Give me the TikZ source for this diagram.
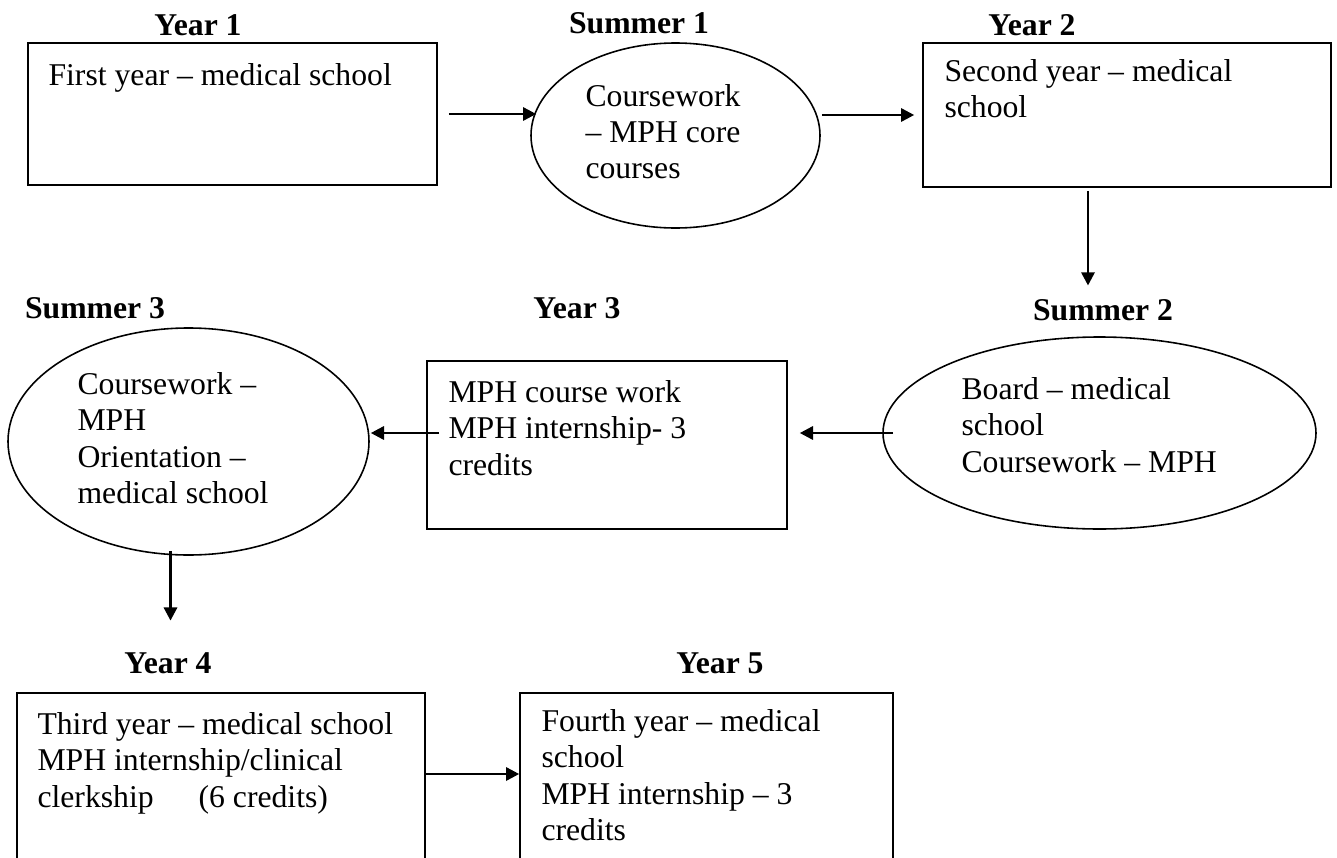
\documentclass[tikz,border=0pt]{standalone}
\usepackage{fontspec}
\setmainfont{Liberation Serif}
\usetikzlibrary{shapes.geometric}
\usetikzlibrary{arrows.meta}

\tikzset{
  boxsize/.style 2 args={minimum width=#1*0.3786pt, minimum height=#2*0.3786pt},
  yearbox/.style={draw, rectangle, line width=0.6pt, inner sep=0pt},
  summerell/.style={draw, ellipse, line width=0.6pt, inner sep=0pt},
  boxtext/.style={anchor=north west, inner sep=0pt, align=left, font=\fontsize{12}{13.8}\selectfont, execute at begin node=\strut},
  periodlbl/.style={anchor=base, inner sep=0pt, font=\fontsize{12}{13.8}\selectfont\bfseries},
  flow/.style={line width=1pt, -{Triangle[length=5pt,width=5pt]}}
}

\begin{document}
\begin{tikzpicture}[x=0.3786pt,y=0.3786pt,yscale=-1]
\useasboundingbox (0,0) rectangle (1337,857);

%Shape: Rectangle
\node[yearbox, boxsize={409}{142}] (y1) at (232.5,114) {};
%Shape: Ellipse
\node[summerell, boxsize={289}{185}] (s1) at (675.5,135.5) {};
%Shape: Rectangle
\node[yearbox, boxsize={408}{144}] (y2) at (1127,115) {};
%Shape: Ellipse
\node[summerell, boxsize={433}{192}] (s2) at (1099.5,433) {};
%Shape: Rectangle
\node[yearbox, boxsize={360}{168}] (y3) at (607,445) {};
%Shape: Ellipse
\node[summerell, boxsize={361}{227}] (s3) at (188.5,441.5) {};
%Shape: Rectangle
\node[yearbox, boxsize={408}{200}] (y4) at (221,793) {};
%Shape: Rectangle
\node[yearbox, boxsize={373}{200}] (y5) at (706.5,793) {};

% Text Node
\node[periodlbl] (y1lbl) at (198,35) {Year 1};
\node[periodlbl] (s1lbl) at (639,33) {Summer 1};
\node[periodlbl] (y2lbl) at (1032,35) {Year 2};
\node[periodlbl] (s2lbl) at (1103,320) {Summer 2};
\node[periodlbl] (y3lbl) at (577,318) {Year 3};
\node[periodlbl] (s3lbl) at (95,318) {Summer 3};
\node[periodlbl] (y4lbl) at (168,673) {Year 4};
\node[periodlbl] (y5lbl) at (720,673) {Year 5};

% Text Node (top of strut = first baseline - 25.5)
\node[boxtext] (y1txt) at (48,59) {First year -- medical school};
\node[boxtext] (s1txt) at (585,83.5) {Coursework\\-- MPH core\\courses};
\node[boxtext] (y2txt) at (944,58.5) {Second year -- medical\\school};
\node[boxtext] (s2txt) at (961,377) {Board -- medical\\school\\Coursework -- MPH};
\node[boxtext] (y3txt) at (448,380) {MPH course work\\MPH internship- 3\\credits};
\node[boxtext] (s3txt) at (77,372) {Coursework --\\MPH\\Orientation --\\medical school};
\node[boxtext] (y4txt) at (37,712) {Third year -- medical school\\MPH internship/clinical\\clerkship\hspace{14pt} (6 credits)};
\node[boxtext] (y5txt) at (541,709) {Fourth year -- medical\\school\\MPH internship -- 3\\credits};

%Straight Lines
\draw[flow] ([shift={(11,0)}]y1.east) -- ([shift={(6,0)}]y1.east -| s1.west);
\draw[flow] ([shift={(1,0)}]y2.west -| s1.east) -- ([shift={(-8,0)}]y2.west);
\draw[flow] ([shift={(-39,3)}]y2.south) -- ([shift={(-39,-13)}]y2.south |- s2lbl.north);
\draw[flow] ([shift={(11,0)}]s2.west) -- ([shift={(12,0)}]s2.west -| y3.east);
\draw[flow] ([shift={(13,0)}]y3.west |- s2.west) -- ([shift={(1,0)}]s2.west -| s3.east);
\draw[flow] ([shift={(-18,-5)}]s3.south) -- ([shift={(-18,-31)}]s3.south |- y4lbl.north);
\draw[flow] ([shift={(0,-19)}]y4.east) -- ([shift={(0,-19)}]y5.west);

\end{tikzpicture}
\end{document}
